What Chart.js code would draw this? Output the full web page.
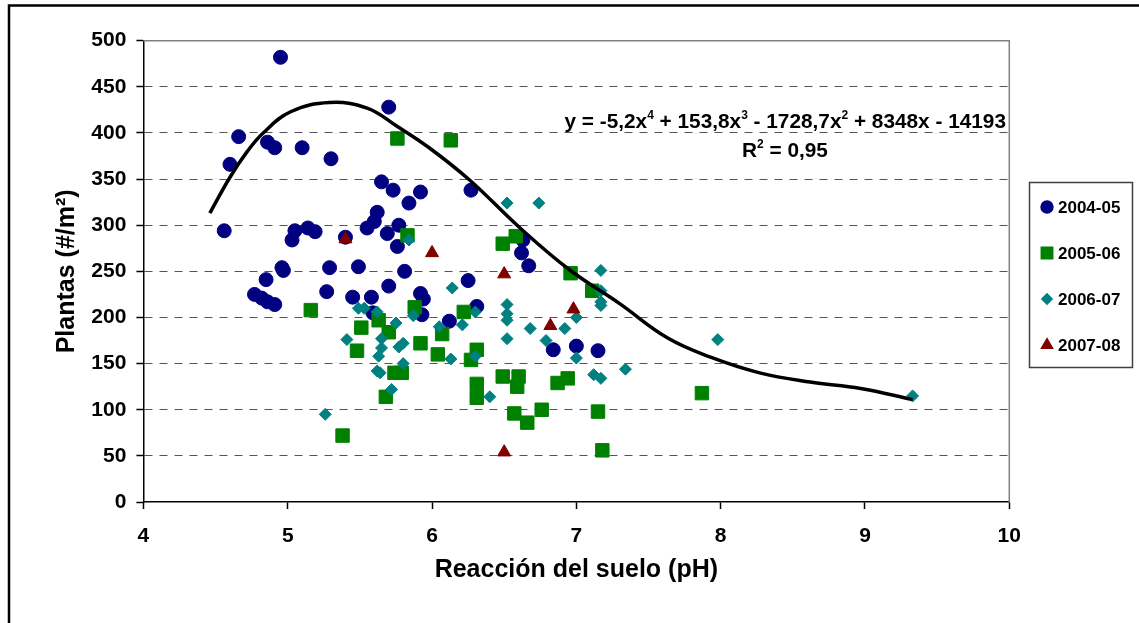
<!DOCTYPE html>
<html>
<head>
<meta charset="utf-8">
<script src="https://cdn.jsdelivr.net/npm/chart.js@4.4.0/dist/chart.umd.min.js"></script>
<style>
  body { margin: 0; background: #fff; }
  #wrap { width: 1139px; height: 623px; }
</style>
</head>
<body>
<div id="wrap"><canvas id="chart" width="1139" height="623"></canvas></div>
<script>
// series: pH and plants per m2
const seasons = ['2004-05', '2005-06', '2006-07', '2007-08'];

const ph0405 = [4.95, 5.70, 4.66, 4.86, 4.91, 5.10, 5.30, 4.60, 5.65, 5.73, 5.92, 5.84, 5.62, 5.60, 5.55, 5.77, 5.69, 5.76,
  5.81, 4.56, 5.05, 5.03, 5.14, 5.19, 5.40, 5.29, 5.49, 4.96, 4.97, 4.85, 5.70, 5.27, 4.77, 4.82, 4.86, 4.91, 5.45, 5.58,
  5.92, 5.94, 5.93, 5.59, 6.67, 6.25, 6.31, 6.12, 6.84, 7.00, 7.15, 6.27, 6.63, 6.62];
const plants0405 = [482, 428, 396, 390, 384, 384, 372, 366, 347, 338, 336, 324, 314, 304, 297, 300, 291, 277,
  250, 294, 294, 284, 297, 293, 287, 254, 255, 254, 251, 241, 234, 228, 225, 221, 217, 214, 222, 222,
  226, 220, 203, 205, 256, 240, 212, 196, 165, 169, 164, 338, 284, 270];

const ph0506 = [5.76, 6.13, 5.83, 6.58, 6.49, 6.96, 7.11, 5.16, 5.88, 6.22, 5.63, 5.51, 5.70, 6.07, 5.92, 5.48, 6.31, 6.04,
  6.27, 5.74, 5.79, 6.49, 6.60, 6.94, 6.87, 6.31, 6.59, 7.87, 5.68, 6.31, 6.76, 7.15, 6.57, 6.66, 5.38, 7.18];
const plants0506 = [394, 392, 289, 288, 280, 248, 229, 208, 211, 206, 197, 189, 184, 182, 172, 164, 165, 160,
  154, 140, 140, 136, 136, 134, 129, 128, 125, 118, 114, 113, 100, 98, 96, 86, 72, 56];

const ph0607 = [6.52, 6.74, 5.84, 7.17, 6.14, 7.17, 7.17, 7.17, 6.52, 5.49, 5.53, 5.62, 6.30, 6.52, 5.87, 7.00, 6.52, 5.75,
  6.21, 6.05, 6.68, 6.92, 6.52, 5.65, 7.98, 5.41, 6.79, 5.80, 5.77, 5.65, 6.30, 5.63, 7.00, 6.13, 5.80, 7.34, 5.62, 5.64,
  7.12, 7.17, 5.72, 9.33, 6.40, 5.26];
const plants0607 = [324, 324, 284, 251, 232, 229, 217, 213, 214, 210, 210, 206, 206, 204, 202, 200, 197, 194,
  192, 190, 188, 188, 177, 177, 176, 176, 175, 172, 168, 167, 158, 158, 156, 155, 150, 144, 142, 140,
  138, 134, 122, 115, 114, 95];

const ph0708 = [5.40, 6.00, 6.50, 6.98, 6.82, 6.50];
const plants0708 = [285, 270, 247, 209, 191, 54];

// fitted curve
const trendPh = [4.46, 4.60, 4.72, 4.83, 5.02, 5.29, 5.55, 5.76, 5.98, 6.26, 6.61, 6.95, 7.30, 7.63, 7.93, 8.27, 8.62, 8.97, 9.33];
const trendPlants = [313, 352, 380, 400, 423, 433, 427, 407, 384, 349, 297, 252, 215, 178, 157, 140, 130, 123, 111];

const equationParts = [['y = -5,2x', false], ['4', true], [' + 153,8x', false], ['3', true],
  [' - 1728,7x', false], ['2', true], [' + 8348x - 14193', false]];
const r2Parts = [['R', false], ['2', true], [' = 0,95', false]];

const FONT = '"Liberation Sans", Arial, sans-serif';

function pts(xs, ys) {
  return xs.map((x, i) => ({ x: x, y: ys[i] }));
}

const seriesStyle = [
  { color: '#000080', style: 'circle', radius: 7 },
  { color: '#008000', style: 'rect', radius: 9.5 },
  { color: '#008080', style: 'rectRot', radius: 6 },
  { color: '#800000', style: 'triangle', radius: 7.5 }
];

function drawParts(ctx, parts, x, y, align, size) {
  const base = 'bold ' + size + 'px ' + FONT;
  const small = 'bold ' + Math.round(size * 0.6) + 'px ' + FONT;
  let total = 0;
  parts.forEach(p => { ctx.font = p[1] ? small : base; total += ctx.measureText(p[0]).width; });
  let cx = align === 'right' ? x - total : x - total / 2;
  ctx.textAlign = 'left';
  ctx.textBaseline = 'alphabetic';
  parts.forEach(p => {
    ctx.font = p[1] ? small : base;
    ctx.fillText(p[0], cx, p[1] ? y - size * 0.45 : y);
    cx += ctx.measureText(p[0]).width;
  });
}

const decor = {
  id: 'decor',
  beforeDatasetsDraw(chart) {
    const ctx = chart.ctx, a = chart.chartArea;
    ctx.save();
    ctx.strokeStyle = '#808080';
    ctx.lineWidth = 1.5;
    ctx.beginPath();
    ctx.moveTo(a.left, a.top);
    ctx.lineTo(a.right, a.top);
    ctx.lineTo(a.right, a.bottom);
    ctx.stroke();
    ctx.restore();
  },
  afterDraw(chart) {
    const ctx = chart.ctx;
    ctx.save();
    // outer frame
    ctx.strokeStyle = '#000';
    ctx.lineWidth = 2.5;
    ctx.strokeRect(9, 5.5, 1200, 700);

    // equation + R2
    ctx.fillStyle = '#000';
    drawParts(ctx, equationParts, 1006, 128, 'right', 20.8);
    drawParts(ctx, r2Parts, 785, 157, 'center', 20.8);

    // legend
    ctx.strokeStyle = '#404040';
    ctx.lineWidth = 1.5;
    ctx.strokeRect(1029.5, 182.5, 103, 185);
    const rows = [207, 253, 299, 345];
    seasons.forEach((s, i) => {
      const st = seriesStyle[i];
      ctx.fillStyle = st.color;
      ctx.strokeStyle = st.color;
      Chart.helpers.drawPoint(ctx, { pointStyle: st.style, radius: st.radius * 0.85, rotation: 0, borderWidth: 1 }, 1047, rows[i]);
      ctx.fillStyle = '#000';
      ctx.font = 'bold 17px ' + FONT;
      ctx.textAlign = 'left';
      ctx.textBaseline = 'middle';
      ctx.fillText(s, 1058, rows[i] + 1);
    });
    ctx.restore();
  }
};

const scatterSets = [
  [ph0405, plants0405], [ph0506, plants0506], [ph0607, plants0607], [ph0708, plants0708]
].map((d, i) => ({
  type: 'scatter',
  label: seasons[i],
  data: pts(d[0], d[1]),
  pointStyle: seriesStyle[i].style,
  pointRadius: seriesStyle[i].radius,
  pointHoverRadius: seriesStyle[i].radius,
  backgroundColor: seriesStyle[i].color,
  borderColor: seriesStyle[i].color,
  borderWidth: 1,
  order: 4 - i
}));

const trendSet = {
  type: 'line',
  label: 'Polinómica',
  data: pts(trendPh, trendPlants),
  borderColor: '#000',
  borderWidth: 3.5,
  pointRadius: 0,
  tension: 0.4,
  fill: false,
  order: 0
};

new Chart(document.getElementById('chart').getContext('2d'), {
  type: 'scatter',
  data: { datasets: [trendSet].concat(scatterSets) },
  options: {
    responsive: false,
    animation: false,
    layout: { padding: { left: 10, top: 40.7, right: 129.7, bottom: 0 } },
    plugins: { legend: { display: false }, tooltip: { enabled: false } },
    scales: {
      x: {
        type: 'linear',
        min: 4,
        max: 10,
        afterFit: s => { s.height = 121; },
        ticks: { stepSize: 1, padding: 15, color: '#000', font: { family: FONT, size: 21, weight: 'bold' } },
        grid: { drawOnChartArea: false, tickLength: 7, tickColor: '#000', tickWidth: 1.5 },
        border: { color: '#000', width: 1.5 },
        title: {
          display: true,
          text: 'Reacción del suelo (pH)',
          color: '#000',
          font: { family: FONT, size: 25, weight: 'bold' },
          padding: { top: 0, bottom: 38 }
        }
      },
      y: {
        min: 0,
        max: 500,
        afterFit: s => { s.width = 133.4; },
        ticks: { stepSize: 50, padding: 10, color: '#000', font: { family: FONT, size: 21, weight: 'bold' } },
        grid: {
          color: c => (c.tick && (c.tick.value === 0 || c.tick.value === 500)) ? 'rgba(0,0,0,0)' : '#555',
          lineWidth: 1,
          tickLength: 7,
          tickColor: '#000',
          tickWidth: 1.5
        },
        border: { color: '#000', width: 1.5, dash: [8, 7] },
        title: {
          display: true,
          text: 'Plantas (#/m²)',
          color: '#000',
          font: { family: FONT, size: 25, weight: 'bold' },
          padding: { top: 42, bottom: 0 }
        }
      }
    }
  },
  plugins: [decor]
});
</script>
</body>
</html>
